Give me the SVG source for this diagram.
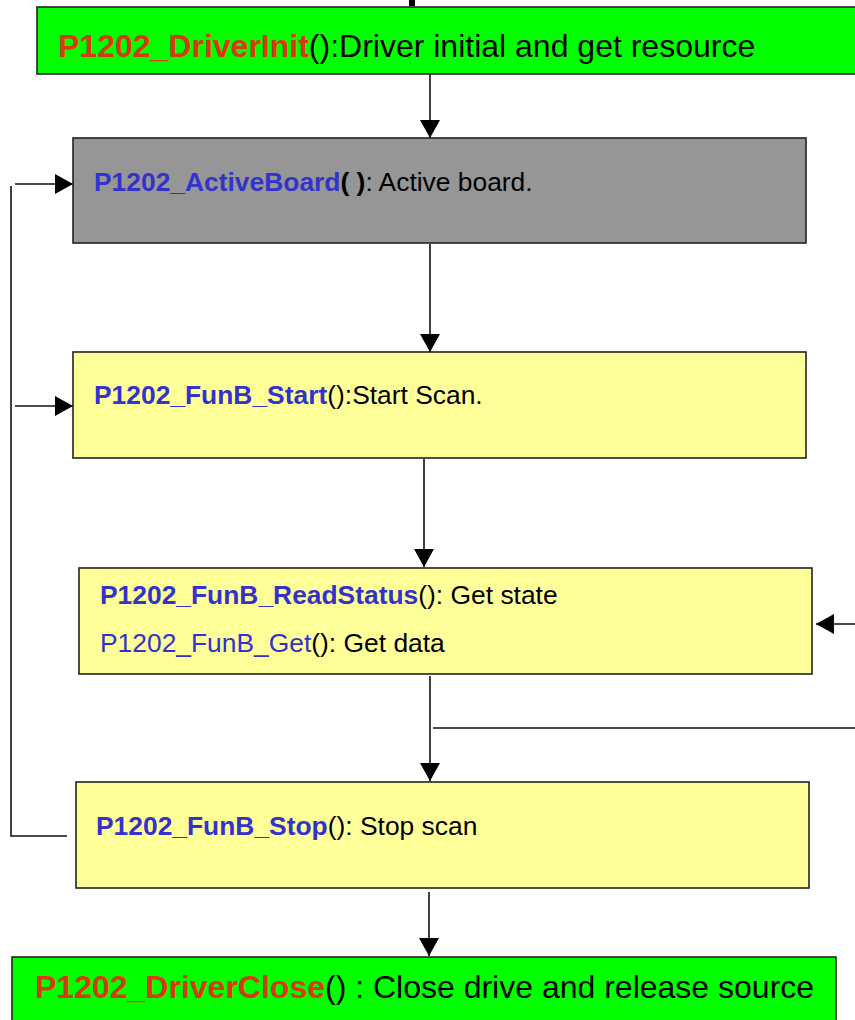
<svg xmlns="http://www.w3.org/2000/svg" width="855" height="1020" viewBox="0 0 855 1020">
  <style>
    .box { stroke: #222; stroke-width: 1.6; }
    .green { fill: #00FF00; }
    .gray { fill: #969696; }
    .yellow { fill: #FFFF99; }
    .wire { fill: none; stroke: #111; stroke-width: 1.6; }
    text { font-family: "Liberation Sans", Arial, sans-serif; fill: #000; }
    .big { font-size: 32px; }
    .mid { font-size: 26.4px; }
    .red { fill: #D63A12; font-weight: bold; }
    .blue { fill: #3333CC; }
    .b { font-weight: bold; }
  </style>
  <defs>
    <marker id="arrow" viewBox="0 0 18 20" refX="18" refY="10" markerWidth="18" markerHeight="20" markerUnits="userSpaceOnUse" orient="auto">
      <path d="M0,0 L18,10 L0,20 Z" fill="#000"/>
    </marker>
  </defs>

  <rect x="0" y="0" width="855" height="1020" fill="#fff"/>
  <!-- fragment above the first box -->
  <rect x="409" y="0" width="6" height="6" fill="#000"/>

  <g id="connectors">
    <line class="wire" x1="430" y1="74" x2="430" y2="138" marker-end="url(#arrow)"/>
    <line class="wire" x1="430" y1="244" x2="430" y2="352" marker-end="url(#arrow)"/>
    <line class="wire" x1="424" y1="459" x2="424" y2="567" marker-end="url(#arrow)"/>
    <line class="wire" x1="430" y1="676" x2="430" y2="781" marker-end="url(#arrow)"/>
    <line class="wire" x1="433" y1="728" x2="855" y2="728"/>
    <line class="wire" x1="855" y1="624" x2="816" y2="624" marker-end="url(#arrow)"/>
    <line class="wire" x1="429" y1="892" x2="429" y2="956" marker-end="url(#arrow)"/>
    <!-- loop back from stop to active board -->
    <polyline class="wire" points="67,836 11,836 11,186"/>
    <line class="wire" x1="15" y1="184" x2="73" y2="184" marker-end="url(#arrow)"/>
    <line class="wire" x1="15" y1="406" x2="73" y2="406" marker-end="url(#arrow)"/>
  </g>

  <g id="driver-init">
    <rect class="box green" x="37" y="7" width="830" height="67"/>
    <text class="big" x="58" y="57"><tspan class="red">P1202_DriverInit</tspan>():Driver initial and get resource</text>
  </g>

  <g id="active-board">
    <rect class="box gray" x="73" y="138" width="733" height="105"/>
    <text class="mid" x="94" y="191"><tspan class="blue b">P1202_ActiveBoard</tspan><tspan class="b">( )</tspan>: Active board.</text>
  </g>

  <g id="funb-start">
    <rect class="box yellow" x="73" y="352" width="733" height="106"/>
    <text class="mid" x="94" y="404"><tspan class="blue b">P1202_FunB_Start</tspan>():Start Scan.</text>
  </g>

  <g id="funb-read">
    <rect class="box yellow" x="79" y="568" width="733" height="106"/>
    <text class="mid" x="100" y="604"><tspan class="blue b">P1202_FunB_ReadStatus</tspan>(): Get state</text>
    <text class="mid" x="100" y="652"><tspan class="blue">P1202_FunB_Get</tspan>(): Get data</text>
  </g>

  <g id="funb-stop">
    <rect class="box yellow" x="76" y="782" width="733" height="106"/>
    <text class="mid" x="96" y="835"><tspan class="blue b">P1202_FunB_Stop</tspan>(): Stop scan</text>
  </g>

  <g id="driver-close">
    <rect class="box green" x="12" y="957" width="824" height="80"/>
    <text class="big" x="35" y="998"><tspan class="red">P1202_DriverClose</tspan>() : Close drive and release source</text>
  </g>
</svg>
